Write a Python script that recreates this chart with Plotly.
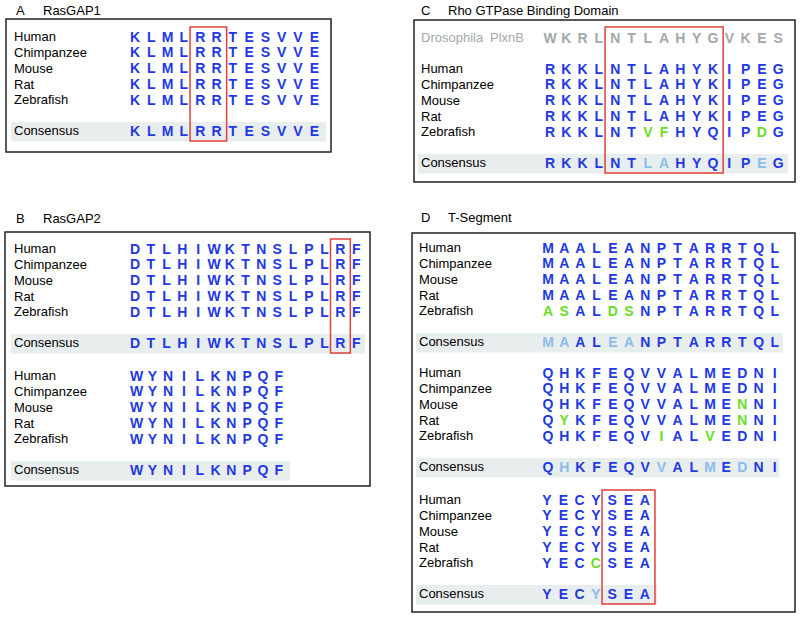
import plotly.graph_objects as go

# ================================ Datos ================================
species = ['Human', 'Chimpanzee', 'Mouse', 'Rat', 'Zebrafish']

rasgap1_seqs = ['KLMLRRTESVVE'] * 5
rasgap1_consensus = 'KLMLRRTESVVE'

rasgap2_seqs_1 = ['DTLHIWKTNSLPLRF'] * 5
rasgap2_consensus_1 = 'DTLHIWKTNSLPLRF'
rasgap2_seqs_2 = ['WYNILKNPQF'] * 5
rasgap2_consensus_2 = 'WYNILKNPQF'

rbd_drosophila = 'WKRLNTLAHYGVKES'
rbd_seqs = ['RKKLNTLAHYKIPEG'] * 4 + ['RKKLNTVFHYQIPDG']
rbd_changed = {4: [6, 7, 13]}
rbd_consensus = 'RKKLNTLAHYQIPEG'
rbd_weak = [6, 7, 13]

tseg_seqs_1 = ['MAALEANPTARRTQL'] * 4 + ['ASALDSNPTARRTQL']
tseg_changed_1 = {4: [0, 1, 4, 5]}
tseg_consensus_1 = 'MAALEANPTARRTQL'
tseg_weak_1 = [0, 1, 4, 5]

tseg_seqs_2 = ['QHKFEQVVALMEDNI', 'QHKFEQVVALMEDNI', 'QHKFEQVVALMENNI',
               'QYKFEQVVALMENNI', 'QHKFEQVIALVEDNI']
tseg_changed_2 = {2: [12], 3: [1, 12], 4: [7, 10]}
tseg_consensus_2 = 'QHKFEQVVALMEDNI'
tseg_weak_2 = [1, 7, 10, 12]

tseg_seqs_3 = ['YECYSEA'] * 4 + ['YECCSEA']
tseg_changed_3 = {4: [3]}
tseg_consensus_3 = 'YECYSEA'
tseg_weak_3 = [3]

# ================================ Estilo ================================
BLUE = '#2238e2'
GREEN = '#6ade26'
LIGHT = '#8cbceb'
GRAY = '#a2a8ab'
BG = '#e8edee'
RED = '#e2403a'
FONT = 'Liberation Sans, Arial, sans-serif'
ROW_H = 15.75
CONS_GAP = 31

fig = go.Figure()
shapes = []
lab_x, lab_y, lab_t, lab_c = [], [], [], []
res_x, res_y, res_t, res_c = [], [], [], []


def add_block(seqs, consensus, changed, weak, x0, dx, y0, label_x, bg_x1, box_cols=None, box_top=None):
    for i, (name, seq) in enumerate(zip(species, seqs)):
        y = y0 + i * ROW_H
        lab_x.append(label_x); lab_y.append(y); lab_t.append(name); lab_c.append('black')
        for j, aa in enumerate(seq):
            res_x.append(x0 + j * dx); res_y.append(y); res_t.append(aa)
            res_c.append(GREEN if j in changed.get(i, []) else BLUE)
    yc = y0 + (len(seqs) - 1) * ROW_H + CONS_GAP
    shapes.append(dict(type='rect', x0=label_x - 3, x1=bg_x1, y0=yc - 10, y1=yc + 9.5,
                       fillcolor=BG, line_width=0, layer='below'))
    lab_x.append(label_x); lab_y.append(yc); lab_t.append('Consensus'); lab_c.append('black')
    for j, aa in enumerate(consensus):
        res_x.append(x0 + j * dx); res_y.append(yc); res_t.append(aa)
        res_c.append(LIGHT if j in weak else BLUE)
    if box_cols:
        top = box_top if box_top is not None else y0
        shapes.append(dict(type='rect', x0=x0 + box_cols[0] * dx - dx / 2 - 2,
                           x1=x0 + box_cols[1] * dx + dx / 2 + 2,
                           y0=top - 11, y1=yc + 9,
                           line=dict(color=RED, width=1.5), layer='above'))


def add_panel(letter, title, lx, ty, box):
    fig.add_annotation(x=lx, y=ty, text=letter, showarrow=False, xanchor='left',
                       font=dict(family=FONT, size=13, color='black'))
    fig.add_annotation(x=lx + 27, y=ty, text=title, showarrow=False, xanchor='left',
                       font=dict(family=FONT, size=13, color='black'))
    shapes.append(dict(type='rect', x0=box[0], x1=box[1], y0=box[2], y1=box[3],
                       line=dict(color='#222222', width=1.5), layer='above'))


# A
add_panel('A', 'RasGAP1', 14, 10, (6, 331, 19, 152))
add_block(rasgap1_seqs, rasgap1_consensus, {}, [], 135, 16.3, 38, 14, 326, box_cols=(4, 5))

# B
add_panel('B', 'RasGAP2', 14, 218, (5, 370, 232, 486))
add_block(rasgap2_seqs_1, rasgap2_consensus_1, {}, [], 135, 15.8, 250, 14, 365, box_cols=(13, 13))
add_block(rasgap2_seqs_2, rasgap2_consensus_2, {}, [], 136.5, 15.8, 377, 14, 290)

# C
add_panel('C', 'Rho GTPase Binding Domain', 419, 10, (414, 795, 20, 182))
lab_x += [421, 490]; lab_y += [39, 39]; lab_t += ['Drosophila', 'PlxnB']; lab_c += [GRAY, GRAY]
for j, aa in enumerate(rbd_drosophila):
    res_x.append(550 + j * 16.3); res_y.append(39); res_t.append(aa); res_c.append(GRAY)
add_block(rbd_seqs, rbd_consensus, rbd_changed, rbd_weak, 550, 16.3, 70, 421, 788,
          box_cols=(4, 10), box_top=38)

# D
add_panel('D', 'T-Segment', 419, 217, (412, 795, 233, 612))
add_block(tseg_seqs_1, tseg_consensus_1, tseg_changed_1, tseg_weak_1, 548, 16.2, 249, 419, 783)
add_block(tseg_seqs_2, tseg_consensus_2, tseg_changed_2, tseg_weak_2, 548, 16.2, 374, 419, 779)
add_block(tseg_seqs_3, tseg_consensus_3, tseg_changed_3, tseg_weak_3, 547, 16.3, 501, 419, 657,
          box_cols=(4, 6))

fig.add_trace(go.Scatter(x=lab_x, y=lab_y, text=lab_t, mode='text', textposition='middle right',
                         textfont=dict(family=FONT, size=13, color=lab_c), hoverinfo='skip'))
fig.add_trace(go.Scatter(x=res_x, y=res_y, text=res_t, mode='text', textposition='middle center',
                         textfont=dict(family=FONT, size=14, color=res_c, weight='bold'),
                         hoverinfo='skip'))

fig.update_layout(
    width=800, height=617,
    margin=dict(t=0, b=0, l=0, r=0),
    paper_bgcolor='white', plot_bgcolor='white',
    showlegend=False,
    shapes=shapes,
    xaxis=dict(range=[0, 800], visible=False, fixedrange=True),
    yaxis=dict(range=[617, 0], visible=False, fixedrange=True),
)

fig.write_html("out.html", config={'displayModeBar': False},
               post_script="document.body.style.margin='0';")
